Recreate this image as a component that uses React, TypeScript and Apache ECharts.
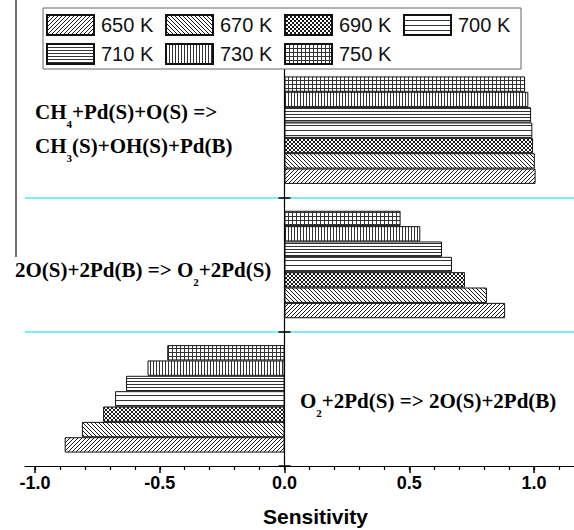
import React, { useEffect, useRef } from 'react';
import * as echarts from 'echarts';

// Categories bottom -> top
const categories = [
  'O2+2Pd(S) => 2O(S)+2Pd(B)',
  '2O(S)+2Pd(B) => O2+2Pd(S)',
  'CH4+Pd(S)+O(S) => CH3(S)+OH(S)+Pd(B)',
];
const seriesNames = ['650 K', '670 K', '690 K', '700 K', '710 K', '730 K', '750 K'];
const v650 = [-0.881, 0.884, 1.006];
const v670 = [-0.812, 0.811, 1.003];
const v690 = [-0.727, 0.723, 0.996];
const v700 = [-0.679, 0.671, 0.993];
const v710 = [-0.635, 0.631, 0.988];
const v730 = [-0.549, 0.544, 0.977];
const v750 = [-0.47, 0.465, 0.964];
const seriesValues = [v650, v670, v690, v700, v710, v730, v750];
const patternKinds = ['diagUp', 'diagDown', 'cross', 'hLoose', 'hDense', 'vert', 'grid'];

const majorTicks = [-1.0, -0.5, 0.0, 0.5, 1.0];
const minorTicks = [-1.0, -0.9, -0.8, -0.7, -0.6, -0.5, -0.4, -0.3, -0.2, -0.1, 0.0, 0.1, 0.2, 0.3, 0.4, 0.5, 0.6, 0.7, 0.8, 0.9, 1.0, 1.1];
const xMin = -1.04;
const xMax = 1.16;

function makePattern(kind: string): any {
  let w = 4;
  let h = 4;
  if (kind === 'hLoose') { w = 4; h = 5; }
  if (kind === 'hDense') { w = 4; h = 3; }
  if (kind === 'vert') { w = 3; h = 4; }
  const c = document.createElement('canvas');
  c.width = w;
  c.height = h;
  const ctx = c.getContext('2d') as CanvasRenderingContext2D;
  ctx.fillStyle = '#ffffff';
  ctx.fillRect(0, 0, w, h);
  ctx.strokeStyle = '#1a1a1a';
  ctx.fillStyle = '#333333';
  ctx.lineWidth = 1;
  const up = () => {
    ctx.beginPath();
    ctx.moveTo(-1, h + 1); ctx.lineTo(w + 1, -1);
    ctx.moveTo(-1, 1); ctx.lineTo(1, -1);
    ctx.moveTo(w - 1, h + 1); ctx.lineTo(w + 1, h - 1);
    ctx.stroke();
  };
  const down = () => {
    ctx.beginPath();
    ctx.moveTo(-1, -1); ctx.lineTo(w + 1, h + 1);
    ctx.moveTo(-1, h - 1); ctx.lineTo(1, h + 1);
    ctx.moveTo(w - 1, -1); ctx.lineTo(w + 1, 1);
    ctx.stroke();
  };
  if (kind === 'diagUp') up();
  if (kind === 'diagDown') down();
  if (kind === 'cross') { up(); down(); }
  if (kind === 'hLoose' || kind === 'hDense') ctx.fillRect(0, 0, w, 1);
  if (kind === 'vert') ctx.fillRect(0, 0, 1, h);
  if (kind === 'grid') { ctx.fillRect(0, 0, w, 1); ctx.fillRect(0, 0, 1, h); }
  return { image: c, repeat: 'repeat', imageWidth: w, imageHeight: h };
}

const serifMain = { fontFamily: '"Liberation Serif", "Times New Roman", serif', fontWeight: 'bold', fontSize: 21, fill: '#000' };
const serifSub = { fontFamily: '"Liberation Serif", "Times New Roman", serif', fontWeight: 'bold', fontSize: 11, fill: '#000', padding: [23, 0, 0, 0] };

function reactionText(x: number, y: number, text: string) {
  return {
    type: 'text',
    x,
    y,
    silent: true,
    style: {
      text,
      rich: { m: serifMain, s: serifSub },
      align: 'left',
      verticalAlign: 'middle',
      ...serifMain,
    },
  };
}

export default function App() {
  const ref = useRef<HTMLDivElement>(null);
  useEffect(() => {
    if (!ref.current) return;
    const chart = echarts.init(ref.current, undefined, { renderer: 'svg' });
    // ECharts stacks the first series of a horizontal bar group at the top; reverse so 650 K sits at the bottom.
    const series = seriesNames
      .map((name, i) => ({
        name,
        type: 'bar',
        data: seriesValues[i],
        barGap: '0%',
        barCategoryGap: '20%',
        itemStyle: { color: makePattern(patternKinds[i]), borderColor: '#111', borderWidth: 1 },
        emphasis: { disabled: true },
      }))
      .reverse();
    chart.setOption({
      animation: false,
      backgroundColor: '#ffffff',
      grid: { left: 25, right: 0, top: 63, bottom: 64, containLabel: false, outerBoundsMode: 'none' },
      legend: {
        data: seriesNames,
        left: 43,
        top: 8,
        width: 470,
        orient: 'horizontal',
        padding: [6, 6, 4, 3],
        itemGap: 7,
        itemWidth: 47,
        itemHeight: 20,
        selectedMode: false,
        backgroundColor: '#ffffff',
        borderColor: '#666',
        borderWidth: 1,
        borderRadius: 0,
        icon: 'rect',
        textStyle: {
          fontFamily: '"Liberation Sans", Arial, sans-serif',
          fontSize: 20,
          color: '#111',
          width: 57,
          lineHeight: 20,
          padding: [0, 0, 0, 2],
        },
      },
      xAxis: [
        {
          type: 'value',
          min: xMin,
          max: xMax,
          position: 'bottom',
          axisLine: { show: true, onZero: false, lineStyle: { color: '#000', width: 1.2 } },
          axisTick: { show: true, customValues: majorTicks, length: 7, lineStyle: { color: '#000', width: 1.5 } },
          axisLabel: {
            show: true,
            customValues: majorTicks,
            formatter: (v: number) => v.toFixed(1),
            fontFamily: '"Liberation Sans", Arial, sans-serif',
            fontWeight: 'bold',
            fontSize: 18,
            color: '#000',
            margin: 8,
          },
          splitLine: { show: false },
          name: 'Sensitivity',
          nameLocation: 'middle',
          nameGap: 40,
          nameTextStyle: {
            fontFamily: '"Liberation Sans", Arial, sans-serif',
            fontWeight: 'bold',
            fontSize: 21,
            color: '#000',
            padding: [0, 0, 0, 32],
          },
        },
        {
          type: 'value',
          min: xMin,
          max: xMax,
          position: 'bottom',
          axisLine: { show: false, onZero: false },
          axisTick: { show: true, customValues: minorTicks, length: 4, lineStyle: { color: '#000', width: 1.2 } },
          axisLabel: { show: false },
          splitLine: { show: false },
        },
      ],
      yAxis: [
        {
          type: 'category',
          data: categories,
          axisLine: { show: true, onZero: true, lineStyle: { color: '#000', width: 1.2 } },
          axisTick: { show: true, length: 6, lineStyle: { color: '#000', width: 1.5 } },
          axisLabel: { show: false },
          splitLine: { show: true, showMinLine: false, showMaxLine: false, lineStyle: { color: '#55e6f4', width: 1.6 } },
        },
        {
          type: 'category',
          data: categories,
          position: 'left',
          axisLine: { show: false, onZero: true },
          axisTick: { show: true, inside: true, length: 6, lineStyle: { color: '#000', width: 1.5 } },
          axisLabel: { show: false },
          splitLine: { show: false },
        },
      ],
      series,
      graphic: [
        { type: 'line', silent: true, shape: { x1: 16, y1: 0, x2: 16, y2: 257 }, style: { stroke: '#333', lineWidth: 1.4 } },
        reactionText(35, 112, '{m|CH}{s|4}{m|+Pd(S)+O(S) =>}'),
        reactionText(35, 146, '{m|CH}{s|3}{m|(S)+OH(S)+Pd(B)}'),
        reactionText(15, 270, '{m|2O(S)+2Pd(B) => O}{s|2}{m|+2Pd(S)}'),
        reactionText(300, 401, '{m|O}{s|2}{m|+2Pd(S) => 2O(S)+2Pd(B)}'),
      ],
    });
    return () => chart.dispose();
  }, []);
  return <div ref={ref} style={{ position: 'absolute', left: 0, top: 0, width: 574, height: 530 }} />;
}
